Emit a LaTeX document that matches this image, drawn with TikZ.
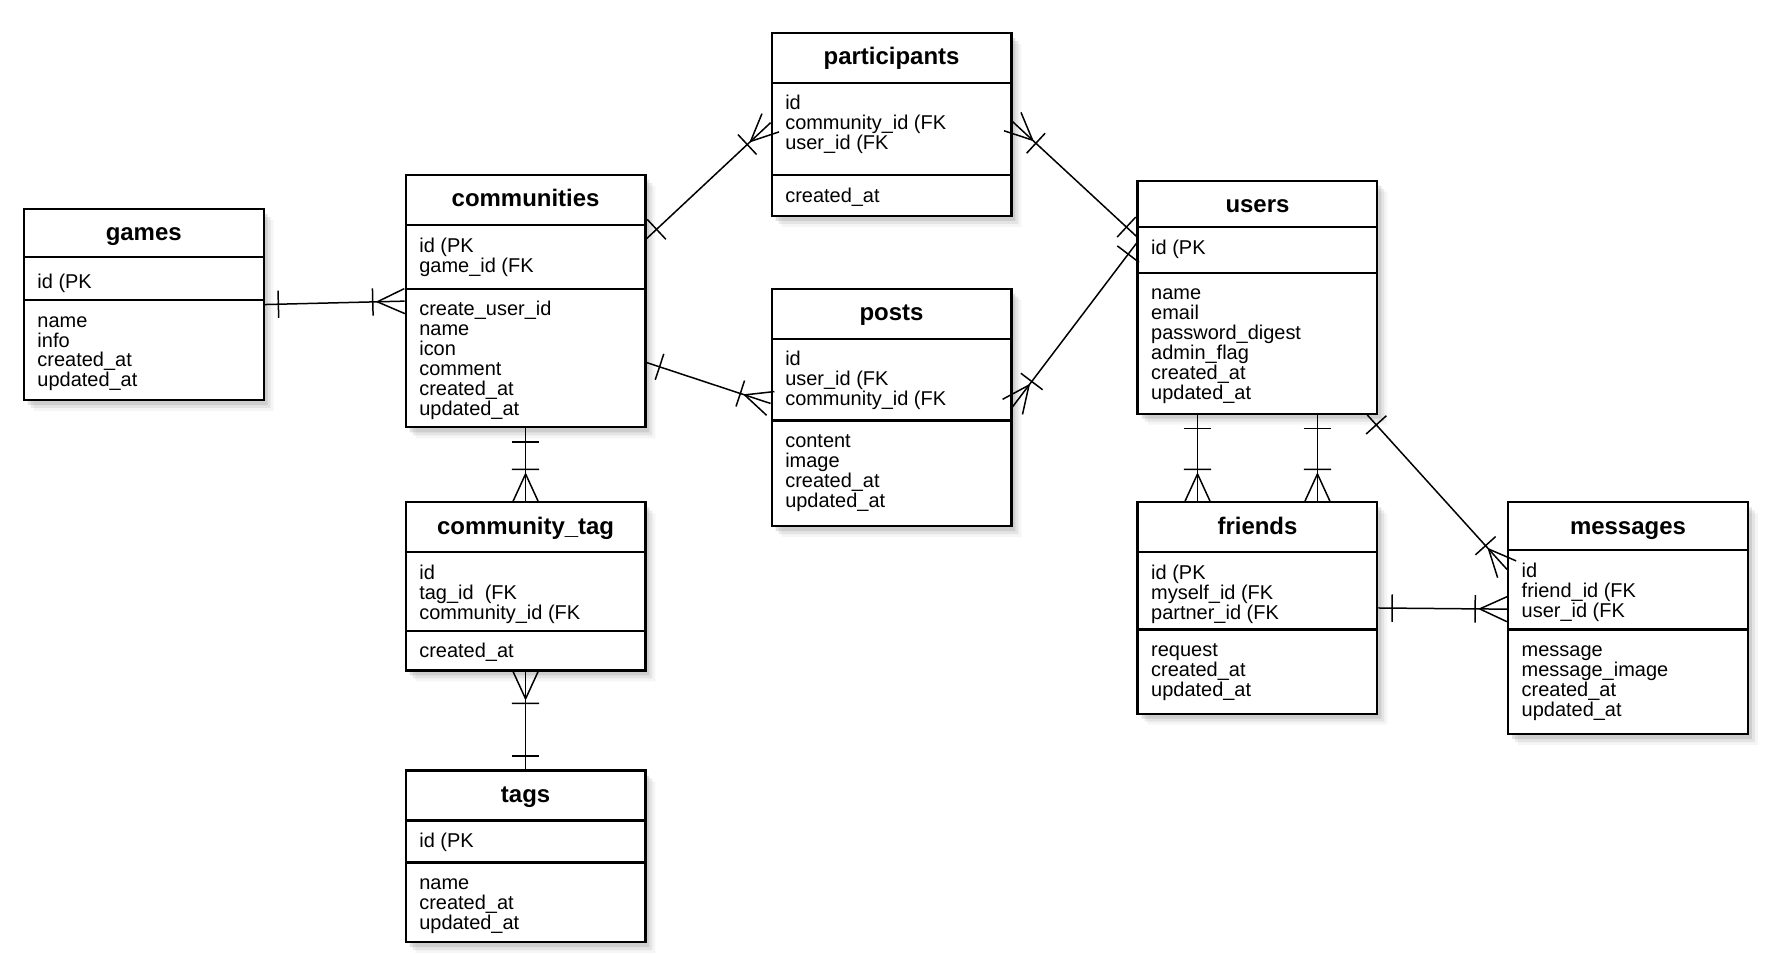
\documentclass[tikz,border=0pt]{standalone}
\usepackage{fontspec}
\setmainfont{Liberation Sans}
\usetikzlibrary{shapes.multipart,shadows,calc,decorations.markings}

\newlength{\px}
\setlength{\px}{0.02cm}

% table parts: title, key rows, other rows
\newcommand{\etitle}[2]{\parbox[c][\dimexpr#1-1.1pt\relax][t]{211\px}{\centering\fontsize{12}{12}\selectfont\bfseries\rule{0pt}{15.4pt}#2}}
\newcommand{\erows}[3][13pt]{\parbox[c][\dimexpr#2-1.1pt\relax][t]{211\px}{\fontsize{10}{10}\selectfont\raggedright\leftskip=12\px\lineskiplimit=-10pt\rule{0pt}{#1}#3}}

\tikzset{
	entity/.style={rectangle split, rectangle split parts=3, draw, line width=1.1pt, fill=white,
		inner sep=0pt, anchor=north west,
		drop shadow={shadow xshift=2pt, shadow yshift=-2.5pt, opacity=0.22},
		drop shadow={shadow xshift=3.5pt, shadow yshift=-4pt, opacity=0.15},
		drop shadow={shadow xshift=5pt, shadow yshift=-5.5pt, opacity=0.08}},
	rel/.style={line width=0.75pt},
	one start/.style={postaction={decorate, decoration={markings,
		mark=at position 12\px with {\draw[rel] (0,-12\px) -- (0,12\px);}}}},
	one end/.style={postaction={decorate, decoration={markings,
		mark=at position -12\px with {\draw[rel] (0,-12\px) -- (0,12\px);}}}},
	many start/.style={postaction={decorate, decoration={markings,
		mark=at position 0 with {\draw[rel] (24\px,0) -- (0,11\px) (24\px,0) -- (0,-11\px)
			(28\px,-12\px) -- (28\px,12\px);}}}},
	many end/.style={postaction={decorate, decoration={markings,
		mark=at position 1 with {\draw[rel] (-24\px,0) -- (0,11\px) (-24\px,0) -- (0,-11\px)
			(-28\px,-12\px) -- (-28\px,12\px);}}}},
}

\begin{document}
\begin{tikzpicture}[x=0.02cm, y=-0.02cm]
	\useasboundingbox (0,0) rectangle (1568,839);

	\node[entity] (games) at (20,183) {\etitle{42\px}{games}
		\nodepart{two}\erows[15.5pt]{38\px}{id (PK}
		\nodepart{three}\erows{88\px}{name\\info\\created\_at\\updated\_at}};
	\node[entity] (communities) at (356,153) {\etitle{44\px}{communities}
		\nodepart{two}\erows{56\px}{id (PK\\game\_id (FK}
		\nodepart{three}\erows{122\px}{create\_user\_id\\name\\icon\\comment\\created\_at\\updated\_at}};
	\node[entity] (participants) at (678,28) {\etitle{44\px}{participants}
		\nodepart{two}\erows{81\px}{id\\community\_id (FK\\user\_id (FK}
		\nodepart{three}\erows{36\px}{created\_at}};
	\node[entity] (posts) at (678,253) {\etitle{44\px}{posts}
		\nodepart{two}\erows{72\px}{id\\user\_id (FK\\community\_id (FK}
		\nodepart{three}\erows{93\px}{content\\image\\created\_at\\updated\_at}};
	\node[entity] (users) at (1000,158) {\etitle{41\px}{users}
		\nodepart{two}\erows{40\px}{id (PK}
		\nodepart{three}\erows{124\px}{name\\email\\password\_digest\\admin\_flag\\created\_at\\updated\_at}};
	\node[entity] (communitytag) at (356,441) {\etitle{44\px}{community\_tag}
		\nodepart{two}\erows{69\px}{id\\tag\_id\ \ (FK\\community\_id (FK}
		\nodepart{three}\erows{35\px}{created\_at}};
	\node[entity] (tags) at (356,677) {\etitle{44\px}{tags}
		\nodepart{two}\erows{37\px}{id (PK}
		\nodepart{three}\erows{70\px}{name\\created\_at\\updated\_at}};
	\node[entity] (friends) at (1000,441) {\etitle{44\px}{friends}
		\nodepart{two}\erows{68\px}{id (PK\\myself\_id (FK\\partner\_id (FK}
		\nodepart{three}\erows{74\px}{request\\created\_at\\updated\_at}};
	\node[entity] (messages) at (1326,441) {\etitle{42\px}{messages}
		\nodepart{two}\erows{70\px}{id\\friend\_id (FK\\user\_id (FK}
		\nodepart{three}\erows{92\px}{message\\message\_image\\created\_at\\updated\_at}};

	% relations
	\draw[rel, one start, many end] (games.east) -- (communities.west);
	\draw[rel, one start, many end] (communities.south) -- (communitytag.north);
	\draw[rel, many start, one end] (communitytag.south) -- (tags.north);
	\draw[rel, one start, many end] ($(communities.north east)+(0,57)$) -- ($(participants.north west)+(0,80)$);
	\draw[rel, one start, many end] ($(communities.north east)+(0,166)$) -- ($(posts.north west)+(0,102)$);
	\draw[rel, many start, one end] ($(participants.north east)+(0,79)$) -- ($(users.north west)+(0,50)$);
	\draw[rel, many start, one end] ($(posts.north east)+(0,105)$) -- ($(users.north west)+(0,56)$);
	\draw[rel, one start, many end] ($(users.south)+(-52.75,0)$) -- ($(friends.north)+(-52.75,0)$);
	\draw[rel, one start, many end] ($(users.south)+(52.75,0)$) -- ($(friends.north)+(52.75,0)$);
	\draw[rel, one start, many end] ($(users.south east)+(-10,0)$) -- ($(messages.north west)+(0,60)$);
	\draw[rel, one start, many end] (friends.east) -- ($(messages.north west)+(0,95)$);
\end{tikzpicture}
\end{document}
